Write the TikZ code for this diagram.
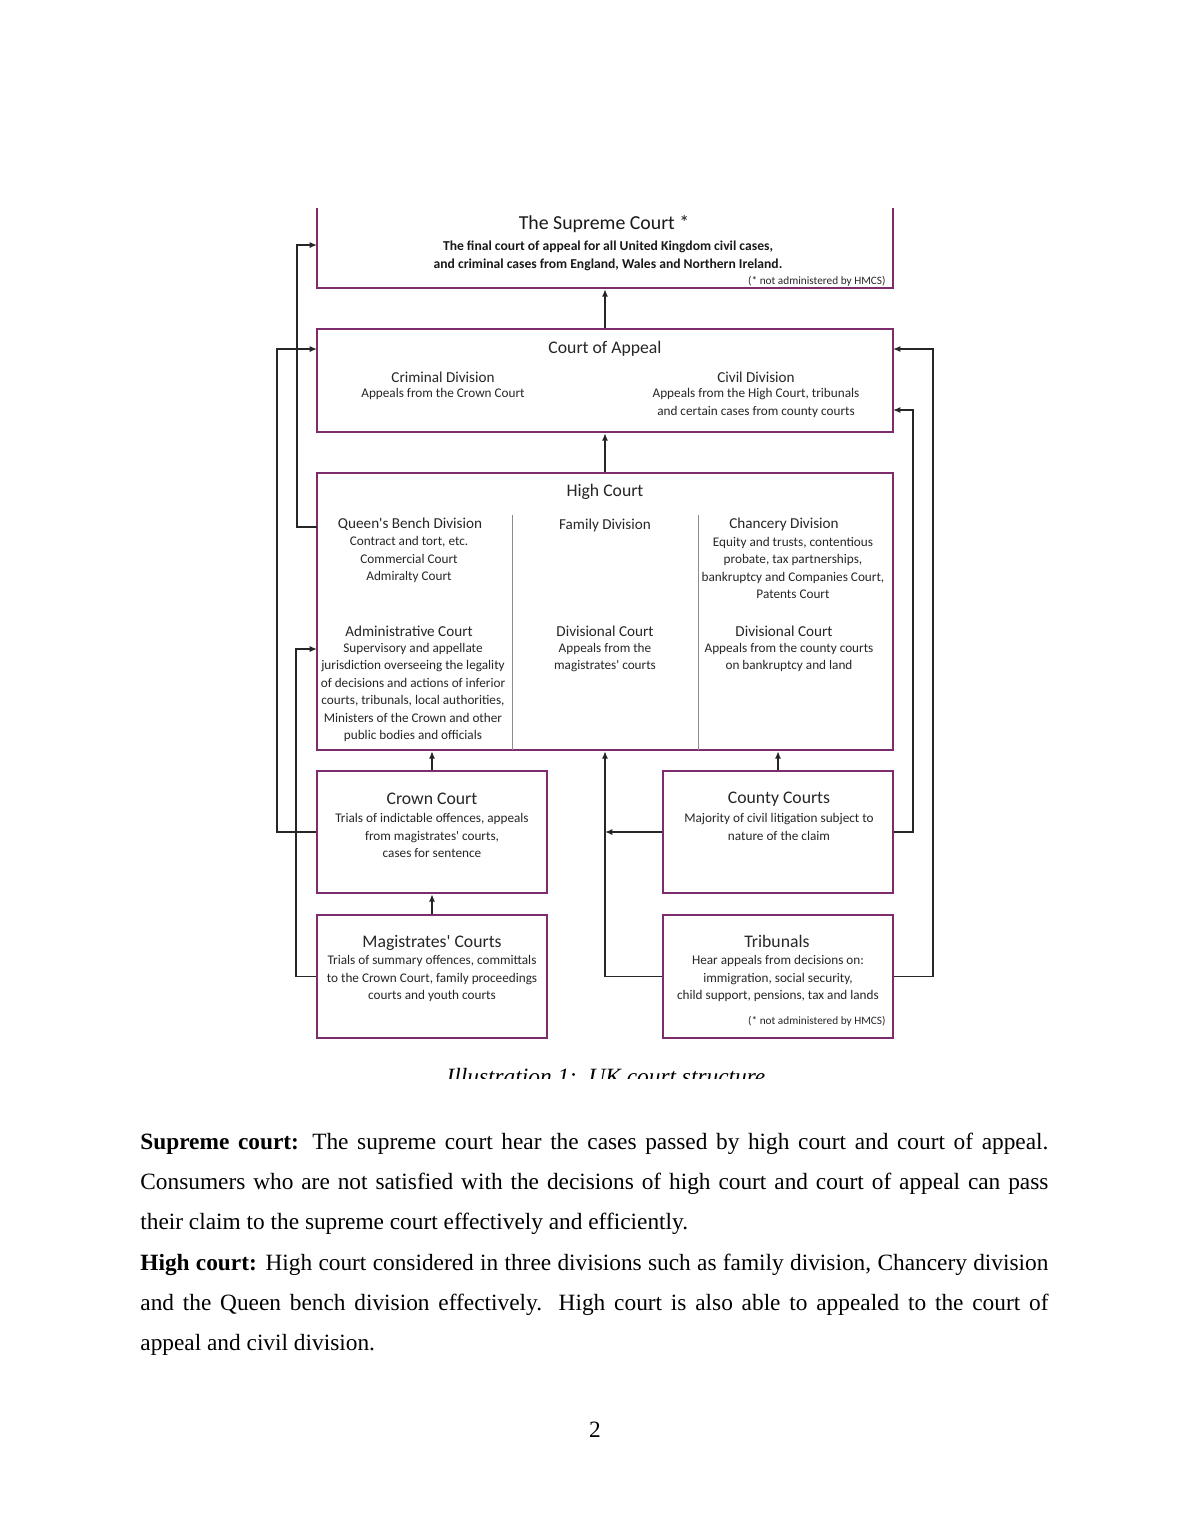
\documentclass[tikz,border=0pt]{standalone}
\usepackage{fontspec}
\setmainfont{Liberation Serif}
\newfontfamily\dfont{Carlito}
\usetikzlibrary{arrows.meta,fit}
\definecolor{boxc}{RGB}{125,45,110}
\begin{document}
\begin{tikzpicture}[x=0.5143pt,y=-0.5143pt,
  box/.style={draw=boxc, line width=1.3pt, inner sep=0pt},
  arr/.style={-{Latex[length=3.8pt,width=3.2pt]}, line width=0.95pt, draw=black!85},
  divl/.style={draw=black!45, line width=0.5pt},
  ttl/.style={font=\dfont\fontsize{9.1}{10}\selectfont, inner sep=0pt, text=black!85},
  dttl/.style={font=\dfont\fontsize{7.8}{9}\selectfont, inner sep=0pt, text=black!85},
  sub/.style={font=\dfont\fontsize{6.8}{9}\selectfont, align=center, inner sep=0pt, text=black!85},
  note/.style={font=\dfont\fontsize{5.8}{6}\selectfont, inner sep=0pt, anchor=east, text=black!85},
  body/.style={font=\fontsize{12}{14}\selectfont, inner sep=0pt, anchor=base west}]
\useasboundingbox (0,0) rectangle (1190,1540);
\fill[white] (0,0) rectangle (1190,1540);
\begin{scope}
\clip (250,208) rectangle (960,1078);
% boxes
\node[box, fit={(317,170) (893,288)}] (sup) {};
\node[box, fit={(317,329) (893,432)}] (coa) {};
\node[box, fit={(317,473) (893,750)}] (hc) {};
\node[box, fit={(317,771) (547,893)}] (crown) {};
\node[box, fit={(663,771) (893,893)}] (county) {};
\node[box, fit={(317,915) (547,1038)}] (mag) {};
\node[box, fit={(663,915) (893,1038)}] (trib) {};
% dividers
\draw[divl] (512,515) -- (512,750);
\draw[divl] (698,515) -- (698,750);
% supreme court text
\node[font=\dfont\fontsize{10.2}{12}\selectfont, inner sep=0pt, text=black!90] (supT) at (604,224) {The Supreme Court *};
\node[font=\dfont\bfseries\fontsize{7}{9.3}\selectfont, align=center, inner sep=0pt, text=black!90] (supD) at (608,256)
  {The final court of appeal for all United Kingdom civil cases,\\and criminal cases from England, Wales and Northern Ireland.};
\node[note] (supN) at (886,281) {(* not administered by HMCS)};
% court of appeal
\node[ttl] (coaT) at (605,349) {Court of Appeal};
\node[dttl] (crimT) at (443,377) {Criminal Division};
\node[sub] (crimD) at (443,394) {Appeals from the Crown Court};
\node[dttl] (civT) at (756,377) {Civil Division};
\node[sub] (civD) at (756,403) {Appeals from the High Court, tribunals\\and certain cases from county courts};
% high court
\node[ttl] (hcT) at (605,492) {High Court};
\node[dttl] (qbT) at (410,524) {Queen's Bench Division};
\node[sub] (qbD) at (409,559.5) {Contract and tort, etc.\\Commercial Court\\Admiralty Court};
\node[dttl] (famT) at (605,525) {Family Division};
\node[dttl] (chT) at (784,524) {Chancery Division};
\node[sub] (chD) at (793,568) {Equity and trusts, contentious\\probate, tax partnerships,\\bankruptcy and Companies Court,\\Patents Court};
\node[dttl] (admT) at (409,631) {Administrative Court};
\node[sub] (admD) at (413,692.5) {Supervisory and appellate\\jurisdiction overseeing the legality\\of decisions and actions of inferior\\courts, tribunals, local authorities,\\Ministers of the Crown and other\\public bodies and officials};
\node[dttl] (dcmT) at (605,631) {Divisional Court};
\node[sub] (dcmD) at (605,657.5) {Appeals from the\\magistrates' courts};
\node[dttl] (dcrT) at (784,631) {Divisional Court};
\node[sub] (dcrD) at (789,657.5) {Appeals from the county courts\\on bankruptcy and land};
% lower courts
\node[ttl] (crT) at (432,799) {Crown Court};
\node[sub] (crD) at (432,835.5) {Trials of indictable offences, appeals\\from magistrates' courts,\\cases for sentence};
\node[ttl] (ccT) at (779,799) {County Courts};
\node[sub] (ccD) at (779,827) {Majority of civil litigation subject to\\nature of the claim};
\node[ttl] (mgT) at (432,943) {Magistrates' Courts};
\node[sub] (mgD) at (432,978.5) {Trials of summary offences, committals\\to the Crown Court, family proceedings\\courts and youth courts};
\node[ttl] (trT) at (777,941) {Tribunals};
\node[sub] (trD) at (778,978.5) {Hear appeals from decisions on:\\immigration, social security,\\child support, pensions, tax and lands};
\node[note] (trN) at (886,1021) {(* not administered by HMCS)};
% anchor coordinates
\coordinate (supL) at (317,245);
\coordinate (coaL) at (317,349);
\coordinate (coaR1) at (893,349);
\coordinate (coaR2) at (893,410);
\coordinate (hcQB) at (317,527);
\coordinate (hcAdm) at (317,649);
% connectors
\draw[arr] (coa.north) -- (sup.south);
\draw[arr] (hc.north) -- (coa.south);
\draw[arr] (crown.north) -- (crown.north |- hc.south);
\draw[arr] (county.north) -- (county.north |- hc.south);
\draw[arr] (mag.north) -- (crown.south);
\draw[arr] (trib.west) -| (hc.south);
\draw[arr] (county.west) -- (county.west -| hc.south);
\draw[arr] (crown.west) -- ++(-39,0) |- (coaL);
\draw[arr] (mag.west) -- ++(-20,0) |- (hcAdm);
\draw[arr] (hcQB) -- ++(-20,0) |- (supL);
\draw[arr] (county.east) -- ++(19,0) |- (coaR2);
\draw[arr] (trib.east) -- ++(39,0) |- (coaR1);
% caption (clipped)
\node[font=\itshape\fontsize{12}{14}\selectfont, inner sep=0pt, anchor=base] (cap) at (606,1084) {Illustration 1:\ \ UK court structure};
\end{scope}
% body text
\node[body] (l1) at (140,1149) {\makebox[467pt][s]{\textbf{Supreme court:} The supreme court hear the cases passed by high court and court of appeal.}};
\node[body] (l2) at (140,1189) {\makebox[467pt][s]{Consumers who are not satisfied with the decisions of high court and court of appeal can pass}};
\node[body] (l3) at (140,1229) {their claim to the supreme court effectively and efficiently.};
\node[body] (l4) at (140,1270) {\makebox[467pt][s]{\textbf{High court:} High court considered in three divisions such as family division, Chancery division}};
\node[body] (l5) at (140,1310) {\makebox[467pt][s]{and the Queen bench division effectively. High court is also able to appealed to the court of}};
\node[body] (l6) at (140,1350) {appeal and civil division.};
\node[font=\fontsize{12}{14}\selectfont, inner sep=0pt, anchor=base] (pg) at (595,1437) {2};
\end{tikzpicture}
\end{document}
